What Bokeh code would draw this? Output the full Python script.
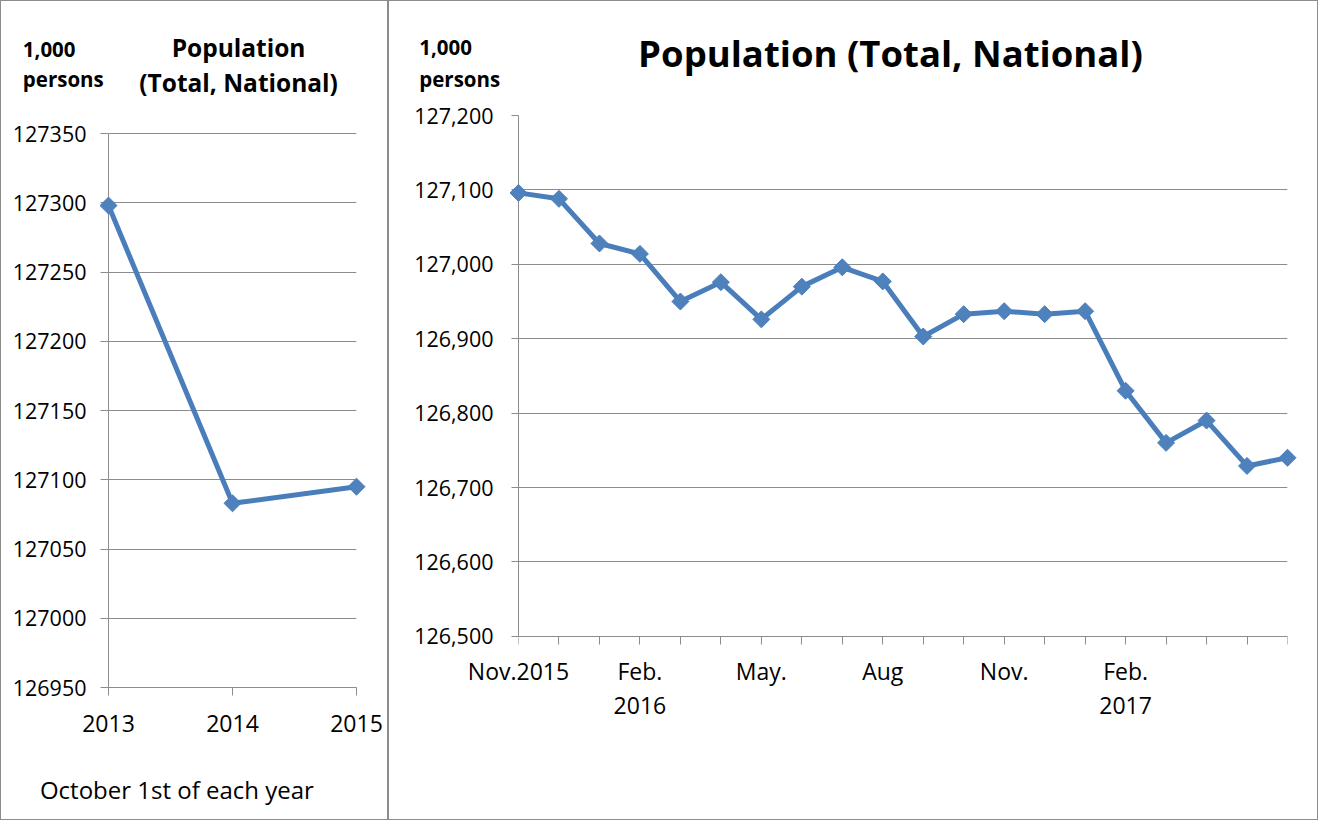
import numpy as np
from bokeh.plotting import figure
from bokeh.models import FixedTicker, NumeralTickFormatter, Range1d, ColumnDataSource
from bokeh.layouts import row
from bokeh.embed import file_html
from bokeh.resources import INLINE
from bokeh.core.properties import value

# ---------------- data ----------------
years = ["2013", "2014", "2015"]
annual_pop = [127298, 127083, 127095]
annual_ticks = [126950, 127000, 127050, 127100, 127150, 127200, 127250, 127300, 127350]

month_names = ["Nov.2015", "Dec.", "Jan.", "Feb.", "Mar.", "Apr.", "May.", "Jun.", "Jul.",
               "Aug", "Sep.", "Oct.", "Nov.", "Dec.", "Jan.", "Feb.", "Mar.", "Apr.",
               "May.", "Jun."]
month_labels = ["Nov.2015", "", "", "Feb.", "", "", "May.", "", "", "Aug", "", "",
                "Nov.", "", "", "Feb.", "", "", "", ""]
year_pos = [3, 15]
year_text = ["2016", "2017"]
monthly_pop = [127096, 127088, 127028, 127014, 126950, 126976, 126926, 126970, 126996,
               126977, 126903, 126933, 126937, 126933, 126937, 126830, 126760, 126790,
               126729, 126740]
monthly_ticks = [126500, 126600, 126700, 126800, 126900, 127000, 127100, 127200]

unit_text = ["1,000", "persons"]
left_title = ["Population", "(Total, National)"]
right_title = "Population (Total, National)"
left_note = "October 1st of each year"

FONT = "Open Sans"
GRID = "#8c8c8c"
BLUE = "#4a7ebb"
FILL = "#4f81bd"
BORDER = {"border": "1px solid #8c8c8c", "box-sizing": "border-box"}


def style_axis(ax, size, out, standoff):
    ax.axis_line_color = GRID
    ax.major_tick_line_color = GRID
    ax.minor_tick_line_color = None
    ax.major_tick_out = out
    ax.major_tick_in = 0
    ax.major_label_text_font = FONT
    ax.major_label_text_font_size = size
    ax.major_label_text_color = "black"
    ax.major_label_standoff = standoff


def add_text(p, xs, ys, texts, size, bold=False, align="left"):
    p.text(x=xs, y=ys, text=texts, text_font=value(FONT), text_font_size=value(size),
           text_font_style="bold" if bold else "normal", text_align=align,
           text_baseline="middle", text_color="black", level="overlay")


# pixel <-> data helpers for the two panels (layout only)
def lx(px):
    return (px - 108) / 123.0


def ly(py):
    return annual_ticks[-1] - (py - 133) * (annual_ticks[-1] - annual_ticks[0]) / 552.0


n = len(monthly_pop)


def rx(px):
    return (px - 518) * (n - 1) / 767.0


def ry(py):
    return monthly_ticks[-1] - (py - 115) * (monthly_ticks[-1] - monthly_ticks[0]) / 519.0


# ---------------- left panel ----------------
p1 = figure(width=388, height=820, x_range=Range1d(0, len(years) - 1),
            y_range=Range1d(annual_ticks[0], ly(115)),
            output_backend="svg", toolbar_location=None,
            min_border_left=107, min_border_right=33, min_border_top=114,
            min_border_bottom=134, outline_line_color=None, styles=BORDER)
p1.xaxis.ticker = FixedTicker(ticks=list(range(len(years))))
p1.xaxis.major_label_overrides = {i: y for i, y in enumerate(years)}
style_axis(p1.xaxis[0], "23px", 8, 19)
p1.yaxis.ticker = FixedTicker(ticks=annual_ticks)
p1.yaxis.formatter = NumeralTickFormatter(format="0")
style_axis(p1.yaxis[0], "21.5px", 8, 14)
p1.yaxis.axis_line_color = None
p1.xgrid.visible = False
p1.ygrid.grid_line_color = GRID
p1.ygrid.grid_line_width = 1
p1.segment(x0=[0], y0=[annual_ticks[0]], x1=[0], y1=[annual_ticks[-1]],
           line_color=GRID, line_width=1, level="overlay")

src1 = ColumnDataSource(dict(x=list(range(len(years))), y=annual_pop))
p1.line("x", "y", source=src1, line_color=BLUE, line_width=5, level="overlay")
p1.scatter("x", "y", source=src1, marker="square", angle=np.pi / 4, size=12,
           fill_color=FILL, line_color=BLUE, level="overlay")

add_text(p1, [lx(23), lx(23)], [ly(49), ly(79)], unit_text, "20.5px", True)
add_text(p1, [lx(237), lx(237)], [ly(47), ly(82)], left_title, "24.5px", True, "center")
add_text(p1, [lx(40)], [ly(787)], [left_note], "24px")

# ---------------- right panel ----------------
p2 = figure(width=930, height=820, x_range=Range1d(0, n - 1),
            y_range=Range1d(ry(685), monthly_ticks[-1]),
            output_backend="svg", toolbar_location=None,
            min_border_left=129, min_border_right=32, min_border_top=114,
            min_border_bottom=134, outline_line_color=None, styles=BORDER)
p2.xaxis.ticker = FixedTicker(ticks=list(range(n)))
p2.xaxis.fixed_location = monthly_ticks[0]
style_axis(p2.xaxis[0], "23px", 8, 9)
p2.xaxis.major_label_text_color = None
p2.yaxis.ticker = FixedTicker(ticks=monthly_ticks)
p2.yaxis.formatter = NumeralTickFormatter(format="0,0")
style_axis(p2.yaxis[0], "21.5px", 7, 18)
p2.yaxis.axis_line_color = None
p2.xgrid.visible = False
p2.ygrid.grid_line_color = GRID
p2.ygrid.grid_line_width = 1
p2.segment(x0=[0], y0=[monthly_ticks[0]], x1=[0], y1=[monthly_ticks[-1]],
           line_color=GRID, line_width=1, level="overlay")

src2 = ColumnDataSource(dict(x=list(range(n)), y=monthly_pop, m=month_names))
p2.line("x", "y", source=src2, line_color=BLUE, line_width=5, level="overlay")
p2.scatter("x", "y", source=src2, marker="square", angle=np.pi / 4, size=12,
           fill_color=FILL, line_color=BLUE, level="overlay")

shown = [i for i, t in enumerate(month_labels) if t]
add_text(p2, shown, [ry(669)] * len(shown), [month_labels[i] for i in shown],
         "23px", False, "center")
add_text(p2, year_pos, [ry(703)] * len(year_pos), year_text, "23px", False, "center")
add_text(p2, [rx(419), rx(419)], [ry(47), ry(79)], unit_text, "20.5px", True)
add_text(p2, [rx(889)], [ry(53)], [right_title], "36.5px", True, "center")

layout = row(p1, p2)
open("out.html", "w").write(file_html(layout, INLINE))
